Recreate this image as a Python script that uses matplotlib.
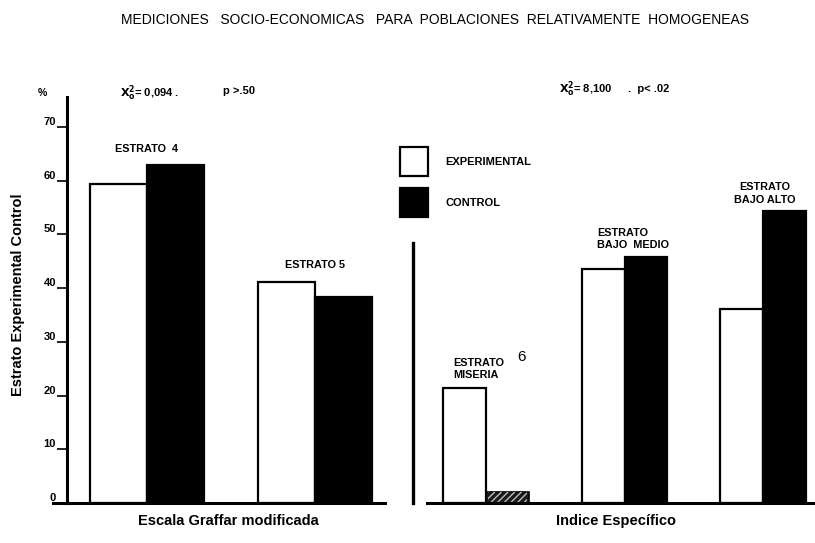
import matplotlib
matplotlib.use("Agg")
import matplotlib.pyplot as plt
from matplotlib.patches import Patch

plt.rcParams['font.family'] = ['Liberation Sans', 'DejaVu Sans']

# ---- data ----
left_groups = ["ESTRATO  4", "ESTRATO 5"]
left_exp = [59.4, 41.2]
left_ctrl = [62.9, 38.4]

right_groups = ["ESTRATO\nMISERIA", "ESTRATO\nBAJO  MEDIO", "ESTRATO\nBAJO ALTO"]
right_exp = [21.4, 43.5, 36.1]
right_ctrl = [2.1, 45.8, 54.4]

yticks = [0, 10, 20, 30, 40, 50, 60, 70]
series_names = ["EXPERIMENTAL", "CONTROL"]

title = "MEDICIONES   SOCIO-ECONOMICAS   PARA  POBLACIONES  RELATIVAMENTE  HOMOGENEAS"
ylabel = "Estrato Experimental Control"
left_xlabel = "Escala Graffar modificada"
right_xlabel = "Indice Específico"

W, H = 815, 543
fig = plt.figure(figsize=(W / 100, H / 100), dpi=100)

def fx(px):
    return px / W

def fy(py):
    return 1 - py / H

bottom = fy(503)
height = fy(97) - bottom
ytop = 75.6
lab_fs = 7.8

# ---- left panel ----
axL = fig.add_axes([fx(53), bottom, fx(385) - fx(53), height])
axL.set_xlim(-0.56, 1.417)
axL.set_ylim(0, ytop)
wL = 0.34
for i in range(len(left_groups)):
    axL.bar(i - 0.17, left_exp[i], width=wL, facecolor="white", edgecolor="black", linewidth=1.6)
    axL.bar(i + 0.17, left_ctrl[i], width=wL, facecolor="black", edgecolor="black", linewidth=1.6)
    top = max(left_exp[i], left_ctrl[i])
    axL.text(i, top + 3.1, left_groups[i], ha="center", va="center", fontsize=lab_fs, fontweight="bold")

for s in ["top", "right"]:
    axL.spines[s].set_visible(False)
axL.spines["left"].set_position(("data", -0.476))
axL.spines["left"].set_linewidth(2.2)
axL.spines["bottom"].set_linewidth(2.2)
axL.set_xticks([])
axL.set_yticks(yticks)
axL.set_yticklabels([str(v) for v in yticks], fontsize=8, fontweight="bold")
axL.tick_params(axis="y", direction="out", length=7, width=1.2, pad=1)
for lbl in axL.get_yticklabels():
    lbl.set_verticalalignment("bottom")
axL.patch.set_alpha(0)

# ---- right panel ----
axR = fig.add_axes([fx(413), bottom, fx(815) - fx(413), height])
axR.set_xlim(-0.527, 2.375)
axR.set_ylim(0, ytop)
wR = 0.31
for i in range(len(right_groups)):
    axR.bar(i - 0.155, right_exp[i], width=wR, facecolor="white", edgecolor="black", linewidth=1.6)
    if i == 0:
        axR.bar(i + 0.155, right_ctrl[i], width=wR, facecolor="#1a1a1a", edgecolor="black", linewidth=1.2)
        axR.bar(i + 0.155, right_ctrl[i], width=wR * 0.9, facecolor="none", edgecolor="#bbbbbb",
                hatch="/////", linewidth=0)
    else:
        axR.bar(i + 0.155, right_ctrl[i], width=wR, facecolor="black", edgecolor="black", linewidth=1.6)

axR.text(-0.238, 25.0, right_groups[0], ha="left", va="center", fontsize=lab_fs, fontweight="bold", linespacing=1.3)
axR.text(0.224, 27.2, "6", ha="left", va="center", fontsize=11)
axR.text(0.80, 49.2, right_groups[1], ha="left", va="center", fontsize=lab_fs, fontweight="bold", linespacing=1.3)
axR.text(2.01, 57.6, right_groups[2], ha="center", va="center", fontsize=lab_fs, fontweight="bold", linespacing=1.3)

for s in ["top", "right"]:
    axR.spines[s].set_visible(False)
axR.spines["left"].set_position(("data", -0.527))
axR.spines["left"].set_bounds(0, 48.4)
axR.spines["left"].set_linewidth(2.4)
axR.spines["bottom"].set_bounds(-0.426, 2.375)
axR.spines["bottom"].set_linewidth(2.2)
axR.set_xticks([])
axR.set_yticks([])
axR.patch.set_alpha(0)

# ---- legend ----
handles = [Patch(facecolor="white", edgecolor="black", linewidth=1.6),
           Patch(facecolor="black", edgecolor="black", linewidth=1.6)]
fig.legend(handles, series_names, loc="upper left", bbox_to_anchor=(fx(400), fy(147)),
           frameon=False, prop={"size": 8, "weight": "bold"},
           handlelength=2.52, handleheight=3.64, handletextpad=1.53, labelspacing=1.08,
           borderpad=0, borderaxespad=0)

# ---- texts ----
fig.text(fx(435), fy(20), title, ha="center", va="center", fontsize=10)
fig.text(fx(18), fy(295), ylabel, rotation=90, ha="center", va="center", fontsize=10.5, fontweight="bold")
fig.text(fx(228), fy(521), left_xlabel, ha="center", va="center", fontsize=10.5, fontweight="bold")
fig.text(fx(616), fy(521), right_xlabel, ha="center", va="center", fontsize=10.5, fontweight="bold")
fig.text(fx(38), fy(93), "%", ha="left", va="center", fontsize=7.5, fontweight="bold")

fig.text(fx(120), fy(93), r"$\mathbf{X_o^2}$= 0,094 .", ha="left", va="center", fontsize=8, fontweight="bold")
fig.text(fx(223), fy(91), "p >.50", ha="left", va="center", fontsize=8, fontweight="bold")
fig.text(fx(559), fy(89), r"$\mathbf{X_o^2}$= 8,100", ha="left", va="center", fontsize=8, fontweight="bold")
fig.text(fx(628), fy(89), ".  p< .02", ha="left", va="center", fontsize=8, fontweight="bold")

fig.savefig("out.png", dpi=100)
